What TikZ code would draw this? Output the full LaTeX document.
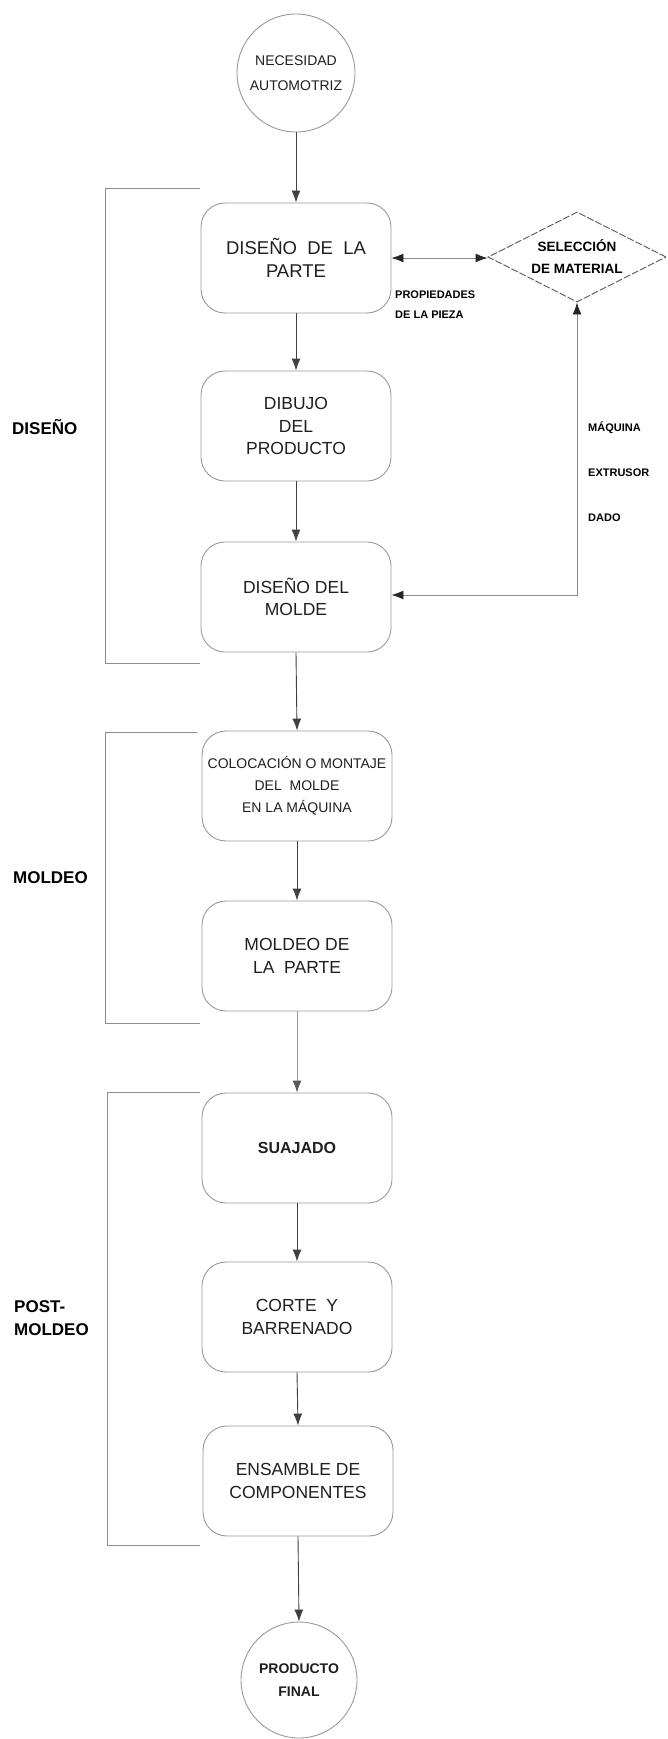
\documentclass[tikz,border=0pt]{standalone}
\usepackage{fontspec}
\setmainfont{Liberation Sans}
\usetikzlibrary{shapes.geometric,arrows.meta}
\begin{document}
\begin{tikzpicture}[x=1pt,y=-1pt,
  box/.style={draw=black!40, line width=0.9pt, rounded corners=24pt, minimum width=190pt, minimum height=110pt, align=center, inner sep=2pt, font=\fontsize{17.5}{22.5}\selectfont, text=black!88},
  term/.style={draw=black!40, line width=0.9pt, circle, minimum size=118pt, align=center, inner sep=0pt, font=\fontsize{14}{25}\selectfont, text=black!88},
  dec/.style={draw=black!65, line width=0.9pt, dash pattern=on 7pt off 2pt, diamond, aspect=2, inner sep=0pt, minimum width=178pt, minimum height=90pt, align=center, font=\bfseries\fontsize{13.5}{22}\selectfont},
  flow/.style={-{Latex[length=12pt,width=9pt]}, draw=black!75, line width=0.9pt},
  faint/.style={-{Latex[length=12pt,width=9pt,color=black!65]}, draw=black!40, line width=0.9pt},
  both/.style={{Latex[length=12pt,width=9pt,color=black!85]}-{Latex[length=12pt,width=9pt,color=black!85]}, draw=black!45, line width=0.9pt},
  brk/.style={draw=black!45, line width=0.9pt},
  lbl/.style={font=\bfseries\fontsize{17}{23}\selectfont, align=left, anchor=west, inner sep=0pt},
  small/.style={font=\bfseries\fontsize{11}{20}\selectfont, align=left, anchor=west, inner sep=0pt}
]
\fill[white] (0,0) rectangle (667,1739);
\useasboundingbox (0,0) rectangle (667,1739);

% main column
\node[term] (c1) at (296,73) {NECESIDAD\\AUTOMOTRIZ};
\node[box, font=\fontsize{18.5}{23}\selectfont] (b1) at (296,258) {DISEÑO\ \ DE\ \ LA\\PARTE};
\node[box] (b2) at (296,426) {DIBUJO\\DEL\\PRODUCTO};
\node[box] (b3) at (296,597) {DISEÑO DEL\\MOLDE};
\node[box, font=\fontsize{14}{22}\selectfont] (b4) at (297,786) {COLOCACIÓN O MONTAJE\\DEL\ \ MOLDE\\EN LA MÁQUINA};
\node[box] (b5) at (297,956) {MOLDEO DE\\LA\ \ PARTE};
\node[box, font=\bfseries\fontsize{16}{22}\selectfont] (b6) at (297,1148) {SUAJADO};
\node[box] (b7) at (297,1317) {CORTE\ \ Y\\BARRENADO};
\node[box] (b8) at (298,1481) {ENSAMBLE DE\\COMPONENTES};
\node[term, font=\bfseries\fontsize{14}{23}\selectfont, minimum size=116pt] (c2) at (299,1680) {PRODUCTO\\FINAL};

% material selection
\node[dec] (mat) at (577,257) {SELECCIÓN\\DE MATERIAL};
\coordinate (k) at (577,595);

% labels
\node[small] (prop) at (395,305) {PROPIEDADES\\DE LA PIEZA};
\node[small] (maq) at (588,428) {MÁQUINA};
\node[small] (ext) at (588,473) {EXTRUSOR};
\node[small] (dado) at (588,518) {DADO};
\node[lbl] (ldis) at (12,427) {DISEÑO};
\node[lbl] (lmol) at (13,878) {MOLDEO};
\node[lbl] (lpost) at (14,1318) {POST-\\MOLDEO};

% connectors
\draw[flow] (c1.south) -- (b1.north);
\draw[flow] (b1.south) -- (b2.north);
\draw[flow] (b2.south) -- (b3.north);
\draw[flow] (b3.south) -- (b4.north);
\draw[flow] (b4.south) -- (b5.north);
\draw[faint] (b5.south) -- (b6.north);
\draw[flow] (b6.south) -- (b7.north);
\draw[flow] (b7.south) -- (b8.north);
\draw[flow] (b8.south) -- (c2.north);
\draw[both] (b1.east) -- (b1.east -| mat.west);
\draw[both] (b3.east |- k) -- (k) -- (mat.south);

% brackets
\draw[brk] (200,188) -- (105,188) -- (105,663) -- (200,663);
\draw[brk] (197,732) -- (105,732) -- (105,1023) -- (200,1023);
\draw[brk] (200,1092) -- (107,1092) -- (107,1545) -- (200,1545);
\end{tikzpicture}
\end{document}
